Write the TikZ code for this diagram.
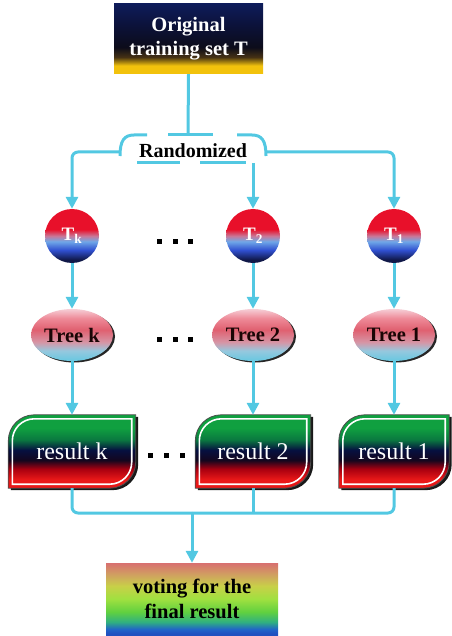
\documentclass[tikz,border=0pt]{standalone}
\usepackage{fontspec}
\setmainfont{Liberation Serif}
\usetikzlibrary{arrows.meta,shapes.geometric,shadows,backgrounds}

\definecolor{conncol}{RGB}{82,200,226}
% top box
\definecolor{goldc}{RGB}{242,194,12}
\definecolor{brownc}{RGB}{70,50,20}
\definecolor{darkc}{RGB}{12,12,26}
\definecolor{midnavy}{RGB}{12,18,58}
\definecolor{navyc}{RGB}{14,28,90}
% circles
\definecolor{cred}{RGB}{232,16,42}
\definecolor{cmauve}{RGB}{200,120,152}
\definecolor{clblue}{RGB}{112,168,232}
\definecolor{cblue}{RGB}{48,80,208}
\definecolor{cnavy}{RGB}{16,24,72}
% trees
\definecolor{tpale}{RGB}{246,206,214}
\definecolor{tpink}{RGB}{238,138,152}
\definecolor{tred}{RGB}{224,96,112}
\definecolor{tmid}{RGB}{214,150,166}
\definecolor{tlblue}{RGB}{150,200,222}
\definecolor{tcyan}{RGB}{112,200,224}
\definecolor{treetext}{RGB}{26,5,5}
% results
\definecolor{rgreen}{RGB}{16,160,64}
\definecolor{rmgreen}{RGB}{10,120,64}
\definecolor{rnavy}{RGB}{6,16,64}
\definecolor{rdark}{RGB}{20,6,30}
\definecolor{rdred}{RGB}{170,0,16}
\definecolor{rred}{RGB}{232,24,24}
% final
\definecolor{fpink}{RGB}{216,112,112}
\definecolor{forange}{RGB}{208,160,96}
\definecolor{fyellow}{RGB}{200,208,72}
\definecolor{fygreen}{RGB}{160,224,64}
\definecolor{fgreen}{RGB}{96,208,64}
\definecolor{fteal}{RGB}{48,176,128}
\definecolor{fblue}{RGB}{32,100,200}
\definecolor{fdblue}{RGB}{32,80,192}

\pgfdeclareverticalshading{topshade}{100bp}{color(0bp)=(goldc); color(25bp)=(goldc); color(31bp)=(goldc); color(37bp)=(brownc); color(44bp)=(darkc); color(60bp)=(midnavy); color(75bp)=(navyc); color(100bp)=(navyc)}
\pgfdeclareverticalshading{circshade}{100bp}{color(0bp)=(cnavy); color(28bp)=(cnavy); color(37bp)=(cblue); color(45bp)=(clblue); color(50bp)=(cmauve); color(56bp)=(cred); color(100bp)=(cred)}
\pgfdeclareverticalshading{treeshade}{100bp}{color(0bp)=(tcyan); color(27bp)=(tcyan); color(35bp)=(tlblue); color(43bp)=(tmid); color(55bp)=(tred); color(66bp)=(tpink); color(75bp)=(tpale); color(100bp)=(tpale)}
\pgfdeclareverticalshading{resshade}{100bp}{color(0bp)=(rred); color(31bp)=(rred); color(38bp)=(rdred); color(44bp)=(rdark); color(51bp)=(rnavy); color(58bp)=(rmgreen); color(66bp)=(rgreen); color(100bp)=(rgreen)}
\pgfdeclareverticalshading{finalshade}{100bp}{color(0bp)=(fdblue); color(26bp)=(fdblue); color(29bp)=(fblue); color(34bp)=(fteal); color(41bp)=(fgreen); color(50bp)=(fygreen); color(59bp)=(fyellow); color(67bp)=(forange); color(75bp)=(fpink); color(100bp)=(fpink)}

\newcommand\leafpath[3]{([xshift=#2,yshift=#2]#1.south west) -- ([xshift=#2,yshift={-(#2+#3)}]#1.north west) arc[start angle=180,end angle=90,radius=#3] -- ([xshift=-#2,yshift=-#2]#1.north east) -- ([xshift=-#2,yshift={#2+#3}]#1.south east) arc[start angle=0,end angle=-90,radius=#3] -- cycle}
\newcommand\drawleaf[1]{%
  \fill[black!90,transform canvas={shift={(2.5pt,-2pt)}}] \leafpath{#1}{0pt}{26pt};
  \shade[shading=resshade,draw=black!70,line width=0.8pt] \leafpath{#1}{0pt}{26pt};
  \draw[white,line width=1.6pt] \leafpath{#1}{4pt}{22pt};
}

\begin{document}
\begin{tikzpicture}[x=1pt,y=-1pt,
  conn/.style={draw=conncol,line width=3pt},
  arr/.style={conn,-{Triangle[width=12pt,length=12pt]}},
  topbox/.style={shade,shading=topshade,minimum width=149pt,minimum height=70pt,inner sep=0pt,align=center,text=white,font=\fontsize{20.5}{24}\selectfont\bfseries},
  tcirc/.style={circle,shade,shading=circshade,minimum size=54pt,inner sep=0pt,text=white,font=\fontsize{19}{20}\selectfont\bfseries},
  treenode/.style={ellipse,shade,shading=treeshade,minimum width=82pt,minimum height=52pt,inner sep=0pt,text=treetext,font=\fontsize{20.5}{22}\selectfont\bfseries,drop shadow={shadow xshift=2pt,shadow yshift=-1.5pt,opacity=1,fill=black!85}},
  resnode/.style={rectangle,minimum height=73pt,inner sep=0pt,text=white,font=\fontsize{24}{26}\selectfont},
  finalbox/.style={shade,shading=finalshade,minimum width=172pt,minimum height=72pt,inner sep=0pt,align=center,text=black,font=\fontsize{20.5}{25}\selectfont\bfseries},
  randlabel/.style={inner sep=0pt,font=\fontsize{20}{22}\selectfont\bfseries},
  dotsq/.style={fill=black}
]
\useasboundingbox (0,0) rectangle (451,636);

% nodes
\node[topbox] (orig) at (188.5,39) {Original\\training set T};
\node[randlabel] (rand) at (193,151) {Randomized};

\node[tcirc] (Tk) at (72,236) {T\textsubscript{k}};
\node[tcirc] (T2) at (253,236) {T\textsubscript{2}};
\node[tcirc] (T1) at (394,236) {T\textsubscript{1}};

\node[treenode] (trk) at (72,335) {Tree k};
\node[treenode] (tr2) at (253,335) {Tree 2};
\node[treenode] (tr1) at (394,335) {Tree 1};

\node[resnode,minimum width=127pt] (rk) at (72,451.5) {result k};
\node[resnode,minimum width=115pt] (r2) at (253,451.5) {result 2};
\node[resnode,minimum width=110pt] (r1) at (394,451.5) {result 1};

\node[finalbox] (vote) at (192,599) {voting for the\\final result};

\begin{scope}[on background layer]
  \drawleaf{rk}
  \drawleaf{r2}
  \drawleaf{r1}
\end{scope}

% dots
\foreach \x in {159.5,175,190.5} {
  \fill[dotsq] (\x-2.5,238.5) rectangle (\x+2.5,243.5);
  \fill[dotsq] (\x-2.5,336.5) rectangle (\x+2.5,341.5);
}
\foreach \x in {150.5,166.5,182.5} {
  \fill[dotsq] (\x-2.5,452.5) rectangle (\x+2.5,457.5);
}

% bracket around "Randomized"
\coordinate (brtop) at (188,135);
\coordinate (brl) at (120,152);
\coordinate (brr) at (266,152);
\coordinate (brm) at (253,163);
\draw[conn] (orig.south) -- (brtop);
\draw[conn] (120,156) .. controls (120,141) and (124,135) .. (134,135) -- (147,135);
\draw[conn] (168,135) -- (213,135);
\draw[conn] (237,135) -- (252,135) .. controls (262,135) and (266,141) .. (266,156);
\draw[conn] (137,163) -- (180,163);
\draw[conn] (200,163) -- (246,163);

\draw[arr,rounded corners=6pt] (brl) -| (Tk.north);
\draw[arr] (brm) -- (T2.north);
\draw[arr,rounded corners=6pt] (brr) -| (T1.north);

\draw[arr] (Tk.south) -- (trk.north);
\draw[arr] (T2.south) -- (tr2.north);
\draw[arr] (T1.south) -- (tr1.north);

\draw[arr] (trk.south) -- (rk.north);
\draw[arr] (tr2.south) -- (r2.north);
\draw[arr] (tr1.south) -- (r1.north);

\coordinate (join) at (192,513);
\draw[conn,rounded corners=6pt] (rk.south) |- (join);
\draw[conn,rounded corners=6pt] (r1.south) |- (join);
\draw[conn] (r2.south) -- (r2.south |- join);
\draw[arr] (join) -- (vote.north);
\end{tikzpicture}
\end{document}
